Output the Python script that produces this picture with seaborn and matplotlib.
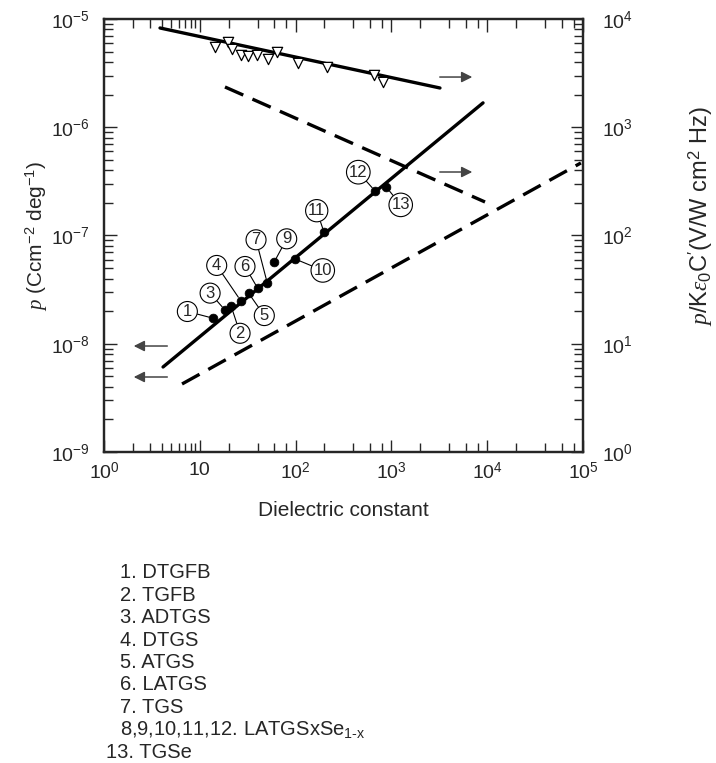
import numpy as np
import seaborn as sns
import matplotlib.pyplot as plt
from matplotlib.ticker import FixedLocator, NullFormatter

# main fit line (left axis, p)
main_x = [4.13, 9040]
main_p = [6.10e-9, 1.68e-6]
# lower dashed line (left axis)
low_x = [6.52, 95000]
low_p = [4.25e-9, 4.68e-7]
# upper solid line (right axis, figure of merit)
top_x = [3.84, 3210]
top_fom = [8260, 2305]
# upper dashed line (right axis)
topd_x = [18.3, 9480]
topd_fom = [2355, 204]

# crystals: dielectric constant and p
crystal_ids = ['1', '2', '3', '4', '5', '6', '7', '9', '10', '11', '12', '13']
crystal_eps = [13.8, 21.2, 18.3, 26.7, 32.4, 40.2, 50.7, 59.5, 98.6, 198, 674, 879]
crystal_p = [1.72e-8, 2.23e-8, 2.05e-8, 2.50e-8, 2.92e-8, 3.25e-8, 3.61e-8,
             5.65e-8, 6.07e-8, 1.07e-7, 2.58e-7, 2.82e-7]
# where the circled numbers sit
label_eps = [7.41, 26.3, 12.8, 15.0, 47.1, 29.6, 38.6, 80.7, 192, 166, 451, 1250]
label_p = [2.05e-8, 1.29e-8, 3.03e-8, 5.46e-8, 1.88e-8, 5.34e-8, 9.42e-8,
           9.62e-8, 4.91e-8, 1.75e-7, 3.97e-7, 1.98e-7]

# open triangles (right axis)
tri_eps = [14.4, 19.6, 21.8, 26.7, 32.1, 39.3, 51.9, 63.5, 107, 211, 658, 811]
tri_fom = [5550, 6170, 5250, 4650, 4550, 4650, 4250, 4990, 3900, 3630, 3040, 2640]

legend_lines = ['1. DTGFB', '2. TGFB', '3. ADTGS', '4. DTGS', '5. ATGS',
                '6. LATGS', '7. TGS', r'8,9,10,11,12. LATGSxSe$_{\text{1-x}}$',
                '13. TGSe']

sns.set_theme(style='ticks')
plt.rcParams['font.family'] = ['Liberation Sans', 'DejaVu Sans']
plt.rcParams['mathtext.fontset'] = 'custom'
plt.rcParams['mathtext.rm'] = 'Liberation Sans'
plt.rcParams['mathtext.it'] = 'Liberation Serif:italic'
plt.rcParams['mathtext.bf'] = 'Liberation Sans:bold'

fig = plt.figure(figsize=(7.16, 7.63), dpi=100)
ax = fig.add_axes([0.1453, 0.4076, 0.669, 0.5675])
ax.set_xscale('log')
ax.set_yscale('log')
ax2 = ax.twinx()
ax2.set_yscale('log')

lw = 2.4
dash = (0, (6, 3))
sns.lineplot(x=main_x, y=main_p, ax=ax, color='black', linewidth=lw)
sns.lineplot(x=low_x, y=low_p, ax=ax, color='black', linewidth=lw, linestyle=dash)
sns.lineplot(x=top_x, y=top_fom, ax=ax2, color='black', linewidth=lw)
sns.lineplot(x=topd_x, y=topd_fom, ax=ax2, color='black', linewidth=lw, linestyle=dash)

sns.scatterplot(x=crystal_eps, y=crystal_p, ax=ax, color='black', s=40,
                edgecolor='black', zorder=4)
sns.scatterplot(x=tri_eps, y=tri_fom, ax=ax2, marker='v', color='white',
                edgecolor='black', linewidth=0.9, s=55, zorder=4)

for t, xd, yd, xt, yt in zip(crystal_ids, crystal_eps, crystal_p, label_eps, label_p):
    ax.annotate(t, xy=(xd, yd), xytext=(xt, yt), ha='center', va='center_baseline',
                fontsize=12, zorder=5,
                bbox=dict(boxstyle='circle,pad=0.15', fc='white', ec='black', lw=0.8),
                arrowprops=dict(arrowstyle='-', lw=0.8, color='black',
                                shrinkA=0, shrinkB=3))

arrow_kw = dict(arrowstyle='-|>', color='#444444', lw=1.1, mutation_scale=16)
ax.annotate('', xy=(1.91, 9.53e-9), xytext=(4.89, 9.53e-9), arrowprops=arrow_kw)
ax.annotate('', xy=(1.91, 4.93e-9), xytext=(4.89, 4.93e-9), arrowprops=arrow_kw)
ax2.annotate('', xy=(7460, 2910), xytext=(2990, 2910), arrowprops=arrow_kw)
ax2.annotate('', xy=(7460, 386), xytext=(2990, 386), arrowprops=arrow_kw)

ax.set_xlim(1, 1e5)
ax.set_ylim(1e-9, 1e-5)
ax2.set_ylim(1, 1e4)

decades = [1, 10, 100, 1000, 10000, 100000]
ax.set_xticks(decades)
ax.set_xticklabels([r'$10^0$', '10', r'$10^2$', r'$10^3$', r'$10^4$', r'$10^5$'])
minor_x = [k for k in range(2, 10)]
for d in decades[1:-1]:
    minor_x += [d * s for s in (2, 4, 6, 8)]
ax.xaxis.set_minor_locator(FixedLocator(minor_x))
ax.xaxis.set_minor_formatter(NullFormatter())

for a in (ax, ax2):
    for sp in a.spines.values():
        sp.set_linewidth(1.6)
        sp.set_visible(True)
ax.tick_params(which='both', direction='in', top=True, right=False,
               labelsize=14, width=1.0)
ax.tick_params(which='major', length=9)
ax.tick_params(which='minor', length=6.5)
ax.tick_params(axis='y', pad=10)
ax.tick_params(axis='x', pad=7)
ax2.tick_params(which='both', direction='in', labelsize=14, width=1.0, pad=14)
ax2.tick_params(which='major', length=9)
ax2.tick_params(which='minor', length=6.5)

ax.set_xlabel('Dielectric constant', fontsize=15, labelpad=13)
ax.set_ylabel(r'$p$ (Ccm$^{-2}$ deg$^{-1}$)', fontsize=15)
ax.yaxis.set_label_coords(-0.113, 0.5)
ax2.set_ylabel(r"$p$/K$\epsilon_0$C$'$(V/W cm$^2$ Hz)", fontsize=17)
ax2.yaxis.set_label_coords(1.215, 0.545)

for i, line in enumerate(legend_lines):
    x0 = 106 / 716 if line.startswith('13') else 120 / 716
    fig.text(x0, 1 - (573 + i * 22.4) / 763, line, fontsize=14.5, va='center')

fig.savefig('out.png', dpi=100)
